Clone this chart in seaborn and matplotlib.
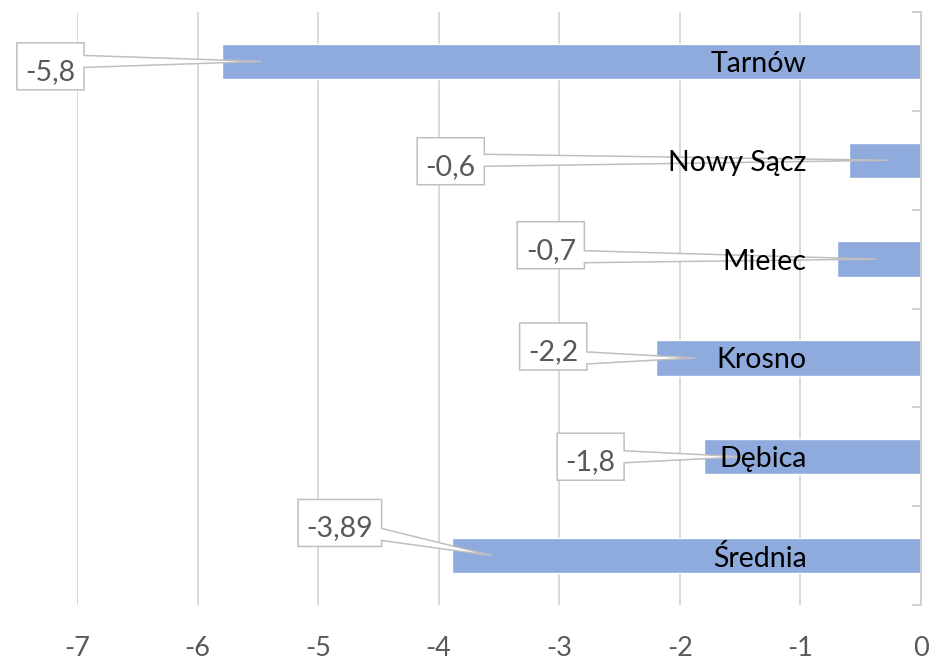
import numpy as np
import seaborn as sns
import matplotlib.pyplot as plt
from matplotlib.patches import Polygon

cities = ['Tarnów', 'Nowy Sącz', 'Mielec', 'Krosno', 'Dębica', 'Średnia']
change = [-5.8, -0.6, -0.7, -2.2, -1.8, -3.89]
x_ticks = [-7, -6, -5, -4, -3, -2, -1, 0]
x_tick_labels = ['-7', '-6', '-5', '-4', '-3', '-2', '-1', '0']

# callout box placement, offsets (data units) from bar end / category centre
box_dx = [-1.42, -3.30, -2.37, -0.85, -0.94, -0.93]
box_dy = [0.08, 0.04, -0.11, -0.085, 0.03, -0.30]

sns.set_style('white')
plt.rcParams['font.family'] = ['Lato', 'DejaVu Sans']

fig = plt.figure(figsize=(9.33, 6.6), dpi=100)
ax = fig.add_axes([0.0825, 0.0833, 0.9046, 0.8985])

sns.barplot(x=change, y=cities, orient='h', color='#8FAADC', saturation=1,
            width=0.357, ax=ax, zorder=2)

ax.set_xlim(-7, 0)
ax.set_ylim(5.5, -0.5)
ax.set_xticks(x_ticks, x_tick_labels)
ax.tick_params(axis='x', length=0, pad=22, labelsize=19.5, labelcolor='#595959')
ax.yaxis.tick_right()
ax.set_yticks(np.arange(-0.5, 6, 1))
ax.set_yticklabels([])
ax.tick_params(axis='y', direction='in', length=6.5, width=1.4, color='#D0D0D0',
               right=True, left=False)
ax.set_xlabel('')
ax.set_ylabel('')
for s in ['left', 'top', 'bottom']:
    ax.spines[s].set_visible(False)
ax.spines['right'].set_color('#D0D0D0')
ax.spines['right'].set_linewidth(1.4)
ax.grid(axis='x', color='#D9D9D9', lw=1.4)
ax.grid(axis='y', visible=False)
ax.set_axisbelow(True)

# category names inside the bars
for i, c in enumerate(cities):
    ax.text(-0.95, i, c, ha='right', va='center_baseline', fontsize=20.5,
            color='black', zorder=5)

# data callouts
fig.canvas.draw()
renderer = fig.canvas.get_renderer()
inv = ax.transData.inverted()
for i, v in enumerate(change):
    bx, by = v + box_dx[i], i + box_dy[i]
    txt = ax.text(bx, by, str(v).replace('.', ','), ha='center', va='center_baseline',
                  fontsize=20.5, color='#595959', zorder=4, clip_on=False)
    tw = txt.get_window_extent(renderer).width
    cx, cy = ax.transData.transform((bx, by))
    cy += 3
    px, py = ax.transData.transform((v + 0.33, i))
    w, h = tw + 17, 47
    L, R = cx - w / 2, cx + w / 2
    B, T = cy - h / 2, cy + h / 2
    wc = min(max(py, B + 12), T - 12)
    pts = [(L, B), (R, B), (R, wc - 6), (px, py), (R, wc + 6), (R, T), (L, T)]
    ax.add_patch(Polygon(inv.transform(pts), closed=True, fc='white', ec='#BFBFBF',
                         lw=1.1, zorder=3, clip_on=False))

fig.savefig('out.png', dpi=100)
